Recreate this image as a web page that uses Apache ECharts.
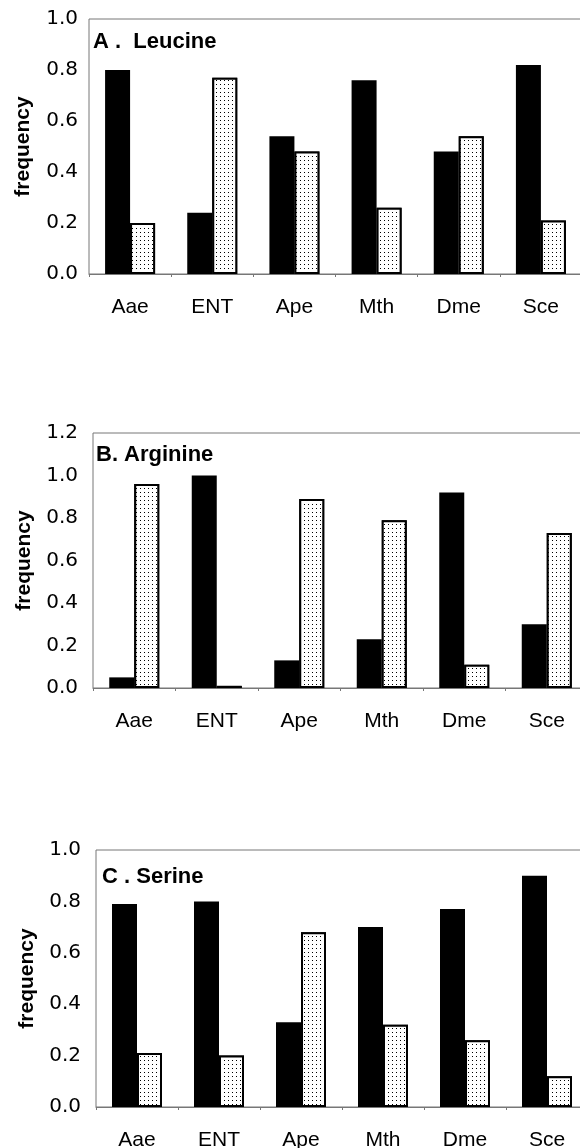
<!DOCTYPE html>
<html>
<head>
<meta charset="utf-8">
<script src="https://cdn.jsdelivr.net/npm/echarts@6/dist/echarts.min.js"></script>
<style>
html,body{margin:0;padding:0;background:#fff;}
#chart{width:580px;height:1148px;}
</style>
</head>
<body>
<div id="chart"></div>
<script>
// ---- data ----
var categories = ['Aae', 'ENT', 'Ape', 'Mth', 'Dme', 'Sce'];
var panelTitles = ['A .  Leucine', 'B. Arginine', 'C . Serine'];
var leucineBlack = [0.80, 0.24, 0.54, 0.76, 0.48, 0.82];
var leucineDotted = [0.20, 0.77, 0.48, 0.26, 0.54, 0.21];
var arginineBlack = [0.05, 1.00, 0.13, 0.23, 0.92, 0.30];
var arginineDotted = [0.96, 0.01, 0.89, 0.79, 0.11, 0.73];
var serineBlack = [0.79, 0.80, 0.33, 0.70, 0.77, 0.90];
var serineDotted = [0.21, 0.20, 0.68, 0.32, 0.26, 0.12];
var yMax = [1.0, 1.2, 1.0];
var yStep = 0.2;
var yAxisName = 'frequency';

// ---- layout ----
var font = '"Liberation Sans", Arial, Helvetica, sans-serif';
var tickFont = '"DejaVu Sans", "Liberation Sans", Arial, sans-serif';
var grids = [
  {left: 89, top: 19, width: 493, height: 255},
  {left: 93, top: 433, width: 495, height: 255},
  {left: 96, top: 850, width: 492, height: 257}
];
var nameGaps = [55, 58, 58];
var labelMargins = [11, 15, 15];
var titlePos = [{left: 93, top: 31}, {left: 96, top: 444}, {left: 102, top: 866}];
var blackSets = [leucineBlack, arginineBlack, serineBlack];
var dottedSets = [leucineDotted, arginineDotted, serineDotted];

var dotDecal = {
  symbol: 'rect',
  symbolSize: 1,
  color: '#000',
  backgroundColor: '#fff',
  dashArrayX: [1, 3],
  dashArrayY: [1, 3],
  rotation: 0
};

var option = {
  animation: false,
  backgroundColor: '#fff',
  title: [],
  grid: [],
  xAxis: [],
  yAxis: [],
  series: []
};

for (var i = 0; i < 3; i++) {
  option.title.push({
    text: panelTitles[i],
    left: titlePos[i].left,
    top: titlePos[i].top,
    padding: 0,
    textStyle: {fontFamily: font, fontSize: 22, fontWeight: 'bold', color: '#000'}
  });
  option.grid.push({
    left: grids[i].left, top: grids[i].top, width: grids[i].width, height: grids[i].height,
    outerBoundsMode: 'none',
    containLabel: false,
    show: true, borderColor: '#777', borderWidth: 1, backgroundColor: 'transparent'
  });
  option.xAxis.push({
    type: 'category',
    gridIndex: i,
    data: categories,
    axisLine: {show: true, lineStyle: {color: '#777', width: 1}},
    axisTick: {show: true, length: 3, inside: false, lineStyle: {color: '#777'}},
    axisLabel: {fontFamily: font, fontSize: 21, color: '#000', margin: 23},
    splitLine: {show: false}
  });
  option.yAxis.push({
    type: 'value',
    gridIndex: i,
    min: 0,
    max: yMax[i],
    interval: yStep,
    name: yAxisName,
    nameLocation: 'middle',
    nameGap: nameGaps[i],
    nameTextStyle: {fontFamily: font, fontSize: 21, fontWeight: 'bold', color: '#000'},
    axisLine: {show: false},
    axisTick: {show: false},
    splitLine: {show: false},
    axisLabel: {
      fontFamily: tickFont, fontSize: 20, color: '#000', margin: labelMargins[i],
      formatter: function (v) { return v.toFixed(1); }
    }
  });
  option.series.push({
    type: 'bar',
    xAxisIndex: i,
    yAxisIndex: i,
    data: blackSets[i],
    barWidth: 25,
    barGap: '0%',
    itemStyle: {color: '#000'}
  });
  option.series.push({
    type: 'bar',
    xAxisIndex: i,
    yAxisIndex: i,
    data: dottedSets[i],
    barWidth: 25,
    barGap: '0%',
    itemStyle: {color: '#fff', borderColor: '#000', borderWidth: 2, decal: dotDecal}
  });
}

var chart = echarts.init(document.getElementById('chart'), null, {renderer: 'canvas'});
chart.setOption(option);
</script>
</body>
</html>
